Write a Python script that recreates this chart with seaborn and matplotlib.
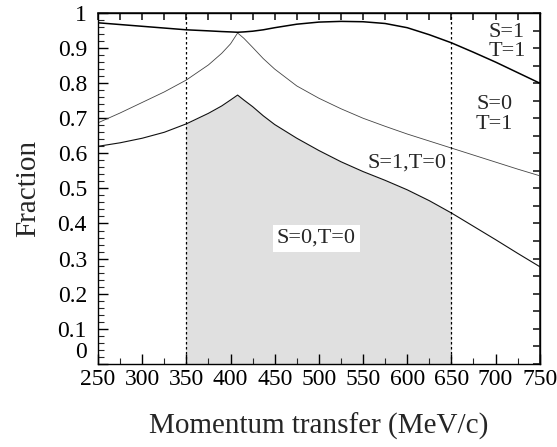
import numpy as np
import pandas as pd
import matplotlib
matplotlib.use("Agg")
import matplotlib.pyplot as plt
import matplotlib.transforms as mtransforms
import seaborn as sns
from matplotlib.ticker import MultipleLocator
from matplotlib.patches import Rectangle

# Data
momentum = [250, 275, 300, 325, 350, 375, 390, 400, 408, 415, 425, 437, 450,
            475, 500, 525, 550, 575, 600, 625, 650, 675, 700, 725, 750]
s0t0_upper = [0.620, 0.630, 0.643, 0.660, 0.684, 0.714, 0.735, 0.752, 0.766,
              0.752, 0.733, 0.707, 0.682, 0.643, 0.608, 0.576, 0.548, 0.523,
              0.496, 0.465, 0.430, 0.392, 0.354, 0.315, 0.277]
s1t0_upper = [0.687, 0.715, 0.745, 0.775, 0.809, 0.852, 0.885, 0.912, 0.943,
              0.928, 0.902, 0.870, 0.840, 0.792, 0.757, 0.727, 0.700, 0.677,
              0.655, 0.635, 0.615, 0.595, 0.575, 0.555, 0.536]
s0t1_upper = [0.972, 0.967, 0.962, 0.957, 0.952, 0.949, 0.947, 0.946, 0.945,
              0.946, 0.948, 0.952, 0.958, 0.968, 0.974, 0.976, 0.975, 0.970,
              0.958, 0.938, 0.915, 0.888, 0.860, 0.830, 0.800]
window = [350, 650]
region_labels = ["S=0,T=0", "S=1,T=0", "S=0\nT=1", "S=1\nT=1"]

sns.set_theme(style="ticks")
plt.rcParams['font.family'] = ['Liberation Serif', 'DejaVu Serif']

df = pd.DataFrame({"x": momentum, "a": s0t0_upper, "b": s1t0_upper, "c": s0t1_upper})

fig = plt.figure(figsize=(5.57, 4.47), dpi=100)
ax = fig.add_axes([0.176, 0.186, 0.793, 0.785])

# shaded region under the S=0,T=0 curve inside the window
fill = ax.fill_between(momentum, 0, s0t0_upper, color="#e0e0e0", linewidth=0, zorder=0)
clip = Rectangle((window[0], 0), window[1] - window[0], 1, transform=ax.transData,
                 facecolor="none", edgecolor="none")
ax.add_patch(clip)
fill.set_clip_path(clip)

sns.lineplot(data=df, x="x", y="a", ax=ax, color="#111111", linewidth=0.8)
sns.lineplot(data=df, x="x", y="b", ax=ax, color="#444444", linewidth=0.6)
sns.lineplot(data=df, x="x", y="c", ax=ax, color="black", linewidth=1.1)

for w in window:
    ax.axvline(w, color="black", linestyle=(0, (2, 2)), linewidth=0.9)

ax.set_xlim(250, 750)
ax.set_ylim(0, 1)
ax.xaxis.set_major_locator(MultipleLocator(50))
ax.xaxis.set_minor_locator(MultipleLocator(25))
ax.yaxis.set_minor_locator(MultipleLocator(0.02))
ax.set_yticks(np.arange(0, 1.01, 0.1))
ax.set_yticklabels(["0"] + [f"{v:.1f}" for v in np.arange(0.1, 0.95, 0.1)] + ["1"])
ax.tick_params(which="major", direction="in", length=7, width=1, labelsize=17,
               colors="black")
ax.tick_params(which="minor", direction="in", length=4, width=0.8)
ax.tick_params(axis="x", pad=4)
ax.tick_params(axis="y", pad=8)

# lift the "0" label slightly, as in the reference
ylabels = ax.get_yticklabels()
ylabels[0].set_transform(ylabels[0].get_transform() +
                         mtransforms.ScaledTranslation(0, 10 / 72, fig.dpi_scale_trans))

top = ax.secondary_xaxis("top")
top.set_xticks(np.arange(250, 751, 25))
top.tick_params(direction="in", length=5, labeltop=False)
top.set_xticklabels([])
right = ax.secondary_yaxis("right")
right.set_yticks(np.arange(0, 1.001, 0.05))
right.tick_params(direction="in", length=5, labelright=False)
right.set_yticklabels([])

for sp in ax.spines.values():
    sp.set_linewidth(1.0)
    sp.set_color("black")

ax.set_xlabel("Momentum transfer (MeV/c)", fontsize=21, labelpad=16)
ax.set_ylabel("Fraction", fontsize=21, labelpad=12)

ax.text(497, 0.358, region_labels[0], fontsize=16, ha="center", va="center",
        bbox=dict(facecolor="white", edgecolor="none", pad=3))
ax.text(600, 0.572, region_labels[1], fontsize=16, ha="center", va="center")
ax.text(699, 0.71, region_labels[2], fontsize=16, ha="center", va="center",
        linespacing=1.05)
ax.text(713, 0.917, region_labels[3], fontsize=16, ha="center", va="center",
        linespacing=1.05)

fig.savefig("out.png", dpi=100)
